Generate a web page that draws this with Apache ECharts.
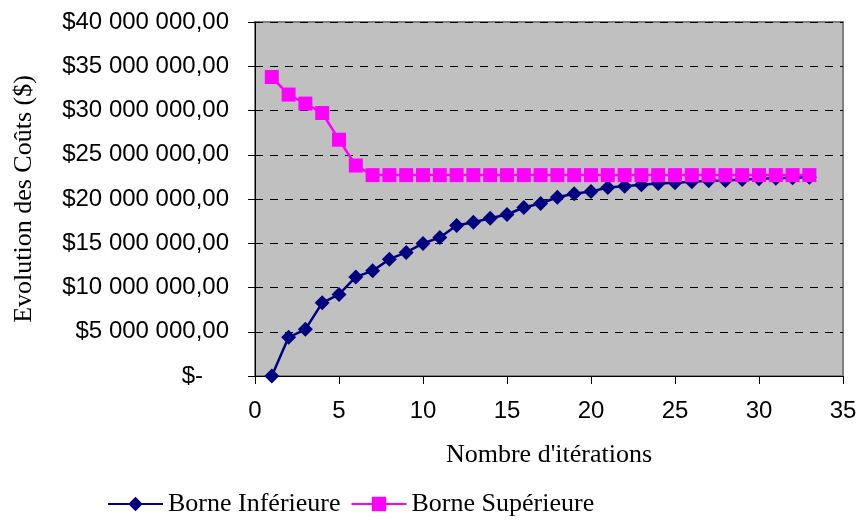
<!DOCTYPE html>
<html>
<head>
<meta charset="utf-8">
<script src="https://cdn.jsdelivr.net/npm/echarts@6/dist/echarts.min.js"></script>
<style>
  html, body { margin: 0; padding: 0; background: #fff; }
  #main { width: 861px; height: 523px; }
</style>
</head>
<body>
<div id="main"></div>
<script>
// iterations and bounds
const iterations = [1, 2, 3, 4, 5, 6, 7, 8, 9, 10, 11, 12, 13, 14, 15, 16, 17,
  18, 19, 20, 21, 22, 23, 24, 25, 26, 27, 28, 29, 30, 31, 32, 33];

const borneInf = [0, 4370000, 5270000, 8270000, 9220000, 11200000, 11880000,
  13200000, 13960000, 14980000, 15650000, 17000000, 17380000, 17830000,
  18250000, 19040000, 19490000, 20200000, 20600000, 20850000, 21300000,
  21450000, 21600000, 21750000, 21850000, 21950000, 22050000, 22100000,
  22200000, 22300000, 22350000, 22400000, 22450000];

const borneSup = [33780000, 31800000, 30780000, 29720000, 26700000, 23780000,
  22700000, 22700000, 22700000, 22700000, 22700000, 22700000, 22700000,
  22700000, 22700000, 22700000, 22700000, 22700000, 22700000, 22700000,
  22700000, 22700000, 22700000, 22700000, 22700000, 22700000, 22700000,
  22700000, 22700000, 22700000, 22700000, 22700000, 22700000];

const seriesNames = ['Borne Inférieure', 'Borne Supérieure'];

function money(v) {
  if (v === 0) return '{z|$-}';
  const s = String(Math.round(v)).replace(/\B(?=(\d{3})+(?!\d))/g, ' ');
  return '$' + s + ',00';
}

const myChart = echarts.init(document.getElementById('main'));

const serif = '"Liberation Serif", "Times New Roman", serif';
const sans = '"Liberation Sans", Arial, sans-serif';

const option = {
  animation: false,
  grid: {
    left: 255, right: 18, top: 22, bottom: 147,
    show: true,
    backgroundColor: '#C0C0C0',
    borderColor: '#808080',
    borderWidth: 2
  },
  legend: {
    left: 102,
    top: 486,
    itemWidth: 55,
    itemHeight: 18,
    itemGap: 10,
    textStyle: { fontFamily: serif, fontSize: 26, color: '#000' },
    data: seriesNames
  },
  xAxis: {
    type: 'value',
    min: 0, max: 35, interval: 5,
    name: "Nombre d'itérations",
    nameLocation: 'middle',
    nameGap: 66,
    nameTextStyle: { fontFamily: serif, fontSize: 26, color: '#000' },
    axisLine: { show: true, onZero: false, lineStyle: { color: '#000', width: 1 } },
    axisTick: { show: true, length: 8, lineStyle: { color: '#000' } },
    axisLabel: { margin: 23, fontFamily: sans, fontSize: 24, color: '#000' },
    splitLine: { show: false }
  },
  yAxis: {
    type: 'value',
    min: 0, max: 40000000, interval: 5000000,
    name: 'Evolution des Coûts ($)',
    nameLocation: 'middle',
    nameGap: 218,
    nameTextStyle: { fontFamily: serif, fontSize: 26, color: '#000' },
    axisLine: { show: true, lineStyle: { color: '#000', width: 1 } },
    axisTick: { show: true, length: 7, lineStyle: { color: '#000' } },
    axisLabel: {
      margin: 26, fontFamily: sans, fontSize: 24, color: '#000',
      formatter: money,
      rich: { z: { fontFamily: sans, fontSize: 24, color: '#000', padding: [0, 26, 0, 0] } }
    },
    splitLine: { show: true, lineStyle: { color: '#000', type: [8, 7], width: 1 } }
  },
  series: [
    {
      name: seriesNames[0],
      type: 'line',
      data: iterations.map((it, i) => [it, borneInf[i]]),
      symbol: 'diamond',
      symbolSize: 15,
      itemStyle: { color: '#000080' },
      lineStyle: { color: '#000080', width: 2.5 },
      z: 2
    },
    {
      name: seriesNames[1],
      type: 'line',
      data: iterations.map((it, i) => [it, borneSup[i]]),
      symbol: 'rect',
      symbolSize: 14,
      itemStyle: { color: '#FF00FF' },
      lineStyle: { color: '#FF00FF', width: 2.5 },
      z: 3
    }
  ]
};

myChart.setOption(option);
</script>
</body>
</html>
